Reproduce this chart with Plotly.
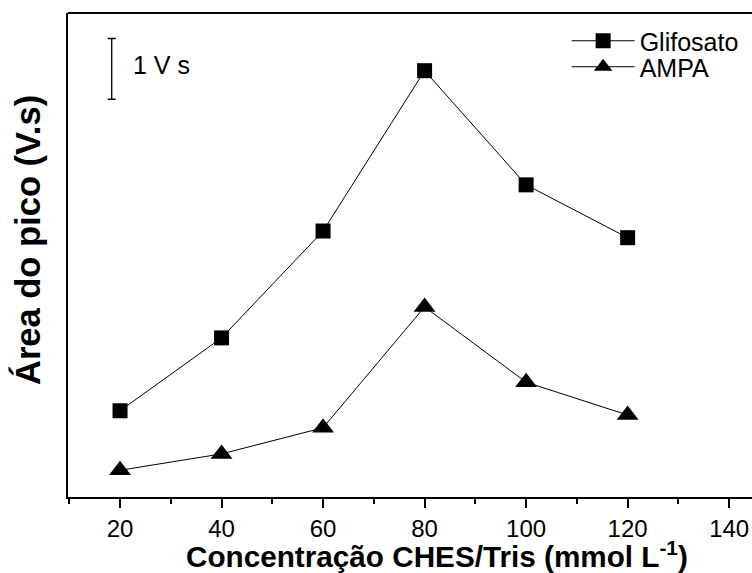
import plotly.graph_objects as go

concentracao = [20, 40, 60, 80, 100, 120]
glifosato = [1.42, 2.62, 4.38, 7.02, 5.14, 4.27]
ampa = [0.44, 0.71, 1.14, 3.13, 1.89, 1.35]
x_ticks = [20, 40, 60, 80, 100, 120, 140]
scale_bar_x = [18.36]
scale_bar_y = [7.05]
scale_bar_len = 1.0

FONT = "Arial, Liberation Sans, sans-serif"

fig = go.Figure()
fig.add_trace(go.Scatter(
    x=concentracao, y=glifosato, name="Glifosato", mode="lines+markers",
    line=dict(color="black", width=1), legend="legend",
    marker=dict(symbol="square", size=15, color="black"),
))
fig.add_trace(go.Scatter(
    x=concentracao, y=ampa, name="AMPA", mode="lines+markers",
    line=dict(color="black", width=1), legend="legend2",
    marker=dict(symbol="triangle-up", size=19, color="black"),
))
# scale bar (1 V s)
fig.add_trace(go.Scatter(
    x=scale_bar_x, y=scale_bar_y, mode="markers", showlegend=False,
    marker=dict(size=1, color="rgba(0,0,0,0)"),
    error_y=dict(type="constant", value=scale_bar_len / 2, color="black",
                 thickness=1.3, width=4),
    hoverinfo="skip",
))

leg_common = dict(xanchor="left", yanchor="middle",
                  font=dict(size=25, family=FONT), bgcolor="rgba(0,0,0,0)",
                  tracegroupgap=0, itemwidth=63)

fig.update_layout(
    width=752, height=573,
    margin=dict(l=68, r=0, t=13, b=76),
    paper_bgcolor="white", plot_bgcolor="white",
    font=dict(family=FONT, color="black", size=24),
    showlegend=True,
    legend=dict(x=0.729, y=(497 - 41) / 484, **leg_common),
    legend2=dict(x=0.729, y=(497 - 67) / 484, **leg_common),
    xaxis=dict(range=[9.75, 144.5], tickvals=x_ticks,
               ticks="outside", ticklen=9, tickwidth=1.5, tickcolor="black",
               showline=True, linecolor="black", linewidth=2, mirror=False,
               showgrid=False, zeroline=False,
               tickfont=dict(size=24, family=FONT),
               minor=dict(dtick=10, tick0=0, ticks="outside", ticklen=5,
                          tickwidth=1.5, tickcolor="black", showgrid=False)),
    yaxis=dict(range=[0, 7.97], showticklabels=False, ticks="",
               showline=True, linecolor="black", linewidth=2,
               showgrid=False, zeroline=False),
    shapes=[dict(type="line", xref="paper", yref="paper", x0=0, x1=1, y0=1, y1=1,
                 line=dict(color="black", width=2))],
    annotations=[
        dict(text="1 V s", xref="paper", yref="paper",
             x=(131 - 68) / 684, y=(497 - 65) / 484, xanchor="left", yanchor="middle",
             showarrow=False, font=dict(size=25, family=FONT)),
        dict(text="<b>Concentração CHES/Tris (mmol L<sup>-1</sup>)</b>", xref="paper", yref="paper",
             x=(437 - 68) / 684, y=-(554 - 497) / 484, xanchor="center", yanchor="middle",
             showarrow=False, font=dict(size=29.7, family=FONT)),
        dict(text="<b>Área do pico (V.s)</b>", xref="paper", yref="paper",
             x=-(68 - 27) / 684, y=(497 - 240) / 484, xanchor="center", yanchor="middle",
             textangle=-90, showarrow=False, font=dict(size=34.5, family=FONT)),
    ],
)

fig.write_html("out.html")
